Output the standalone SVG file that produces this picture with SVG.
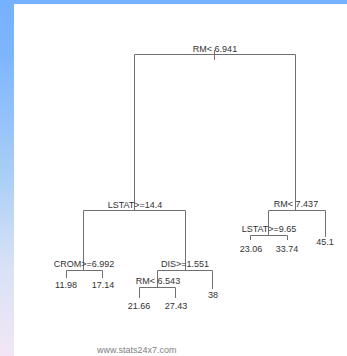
<svg xmlns="http://www.w3.org/2000/svg" width="347" height="356" viewBox="0 0 347 356">
  <defs>
    <linearGradient id="sideFade" x1="0" y1="0" x2="0" y2="1">
      <stop offset="0" stop-color="#76b1ff"/>
      <stop offset="0.15" stop-color="#7db5fd"/>
      <stop offset="0.47" stop-color="#a5cdf6"/>
      <stop offset="0.75" stop-color="#d8e2f6"/>
      <stop offset="1" stop-color="#f2e6f6"/>
    </linearGradient>
    <style>
      .edge { stroke: #707070; stroke-width: 1; fill: none; }
      .lbl { font-family: "Liberation Sans", Arial, sans-serif; font-size: 9px; fill: #333333; text-anchor: middle; }
      .mark { font-family: "Liberation Sans", Arial, sans-serif; font-size: 9px; fill: #808080; }
    </style>
  </defs>

  <!-- page frame -->
  <rect x="0" y="0" width="347" height="356" fill="#ffffff"/>
  <rect x="0" y="0" width="14" height="356" fill="url(#sideFade)"/>
  <rect x="0" y="0" width="347" height="4" fill="#76b1ff"/>

  <!-- tree branches -->
  <g id="connectors">
    <path class="edge" d="M134.5,211 V54.5 H295.5 V211"/>
    <line x1="214.5" y1="50" x2="214.5" y2="60" stroke="#9a6a6a" stroke-width="1"/>
    <path class="edge" d="M83.5,270 V210.5 H185.5 V270"/>
    <path class="edge" d="M268.5,235 V210.5 H325.5 V237"/>
    <path class="edge" d="M66.5,278 V270.5 H102.5 V278"/>
    <path class="edge" d="M157.5,287 V270.5 H212.5 V289"/>
    <path class="edge" d="M139.5,298 V287.5 H175.5 V298"/>
    <path class="edge" d="M250.5,240 V235.5 H287.5 V240"/>
  </g>

  <g id="n-root"><text class="lbl" x="215" y="52">RM&lt; 6.941</text></g>
  <g id="n-lstat144"><text class="lbl" x="135" y="208">LSTAT&gt;=14.4</text></g>
  <g id="n-rm7437"><text class="lbl" x="296" y="207">RM&lt; 7.437</text></g>
  <g id="n-crom"><text class="lbl" x="84" y="267">CROM&gt;=6.992</text></g>
  <g id="n-dis"><text class="lbl" x="185" y="267">DIS&gt;=1.551</text></g>
  <g id="n-rm6543"><text class="lbl" x="158" y="284">RM&lt; 6.543</text></g>
  <g id="n-lstat965"><text class="lbl" x="269" y="232">LSTAT&gt;=9.65</text></g>

  <g id="leaf-1198"><text class="lbl" x="66" y="288">11.98</text></g>
  <g id="leaf-1714"><text class="lbl" x="103" y="288">17.14</text></g>
  <g id="leaf-2166"><text class="lbl" x="139" y="309">21.66</text></g>
  <g id="leaf-2743"><text class="lbl" x="176" y="309">27.43</text></g>
  <g id="leaf-38"><text class="lbl" x="213" y="298">38</text></g>
  <g id="leaf-2306"><text class="lbl" x="251" y="252">23.06</text></g>
  <g id="leaf-3374"><text class="lbl" x="287" y="252">33.74</text></g>
  <g id="leaf-451"><text class="lbl" x="325" y="245">45.1</text></g>

  <text class="mark" x="97" y="353">www.stats24x7.com</text>
</svg>
